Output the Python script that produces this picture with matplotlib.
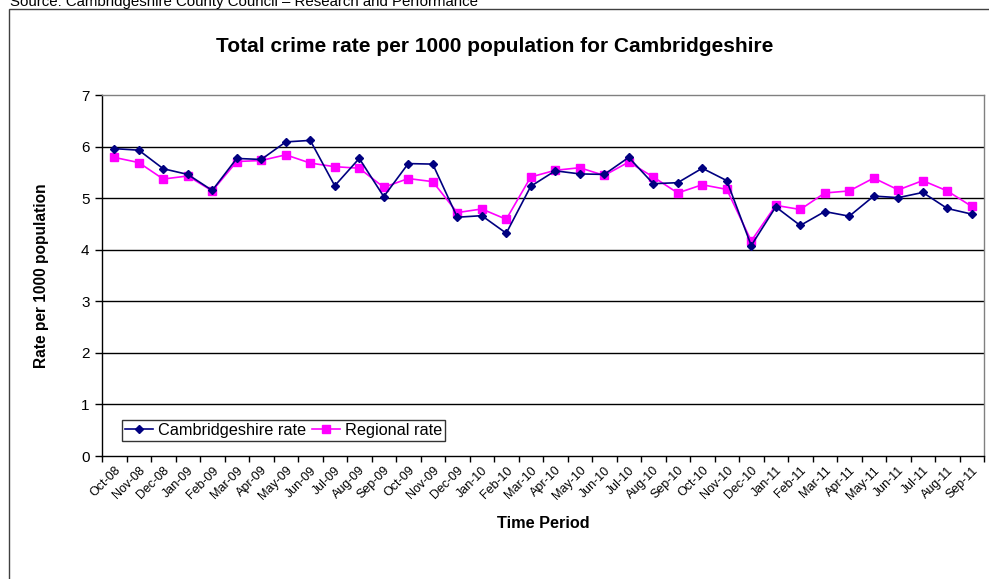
import matplotlib
matplotlib.use("Agg")
import matplotlib.pyplot as plt
from matplotlib.patches import Rectangle

plt.rcParams['font.family'] = ['Liberation Sans', 'DejaVu Sans']

months = ["Oct-08", "Nov-08", "Dec-08", "Jan-09", "Feb-09", "Mar-09", "Apr-09", "May-09",
          "Jun-09", "Jul-09", "Aug-09", "Sep-09", "Oct-09", "Nov-09", "Dec-09", "Jan-10",
          "Feb-10", "Mar-10", "Apr-10", "May-10", "Jun-10", "Jul-10", "Aug-10", "Sep-10",
          "Oct-10", "Nov-10", "Dec-10", "Jan-11", "Feb-11", "Mar-11", "Apr-11", "May-11",
          "Jun-11", "Jul-11", "Aug-11", "Sep-11"]

cambs_rate = [5.96, 5.93, 5.57, 5.46, 5.15, 5.77, 5.75, 6.09, 6.12, 5.24, 5.77, 5.03,
              5.67, 5.66, 4.63, 4.66, 4.32, 5.23, 5.53, 5.47, 5.46, 5.79, 5.28, 5.30,
              5.58, 5.34, 4.08, 4.83, 4.47, 4.74, 4.65, 5.04, 5.01, 5.11, 4.80, 4.69]

regional_rate = [5.79, 5.69, 5.37, 5.43, 5.14, 5.71, 5.73, 5.84, 5.68, 5.61, 5.58, 5.21,
                 5.38, 5.32, 4.72, 4.79, 4.59, 5.41, 5.54, 5.59, 5.44, 5.70, 5.41, 5.10,
                 5.26, 5.17, 4.17, 4.86, 4.78, 5.10, 5.14, 5.39, 5.16, 5.34, 5.14, 4.84]

y_ticks = [0, 1, 2, 3, 4, 5, 6, 7]

W, H = 989, 579
fig = plt.figure(figsize=(W / 100, H / 100), dpi=100)

# outer chart frame (runs off the right and bottom edges)
fig.patches.append(Rectangle((9 / W, -0.2), 1.2, 1 - 9 / H + 0.2, transform=fig.transFigure,
                             fill=False, edgecolor="#404040", linewidth=1.0))

fig.text(10 / W, 1 - 6 / H, "Source: Cambridgeshire County Council \u2013 Research and Performance",
         fontsize=10.8, ha="left", va="baseline", color="black")

fig.text(495 / W, 1 - 47 / H, "Total crime rate per 1000 population for Cambridgeshire",
         fontsize=15, fontweight="bold", ha="center", va="center")

ax = fig.add_axes([102 / W, (H - 456) / H, (984 - 102) / W, (456 - 95) / H])

x = list(range(len(months)))
ax.plot(x, cambs_rate, color="#000080", marker="D", markersize=4.5, linewidth=1.2,
        label="Cambridgeshire rate", zorder=4)
ax.plot(x, regional_rate, color="#FF00FF", marker="s", markersize=5.5, linewidth=1.2,
        label="Regional rate", zorder=3)

ax.set_xlim(-0.5, len(months) - 0.5)
ax.set_ylim(0, 7)
ax.set_yticks(y_ticks)
ax.set_yticklabels([str(v) for v in y_ticks], fontsize=11)

# category boundaries carry the tick marks, labels sit at the category centres
ax.set_xticks([i - 0.5 for i in range(len(months) + 1)])
ax.set_xticklabels([])
ax.set_xticks(x, minor=True)
ax.set_xticklabels(months, minor=True, rotation=45, ha="right", rotation_mode="anchor",
                   fontsize=9)
ax.tick_params(axis="x", which="major", length=4, width=1, direction="out", color="black")
ax.tick_params(axis="x", which="minor", length=0, pad=6)
ax.tick_params(axis="y", length=5, width=1, direction="out", color="black", pad=4)

for v in y_ticks[1:-1]:
    ax.axhline(v, color="black", linewidth=1.0, zorder=1)

ax.spines["left"].set_color("black")
ax.spines["bottom"].set_color("black")
ax.spines["top"].set_color("#808080")
ax.spines["right"].set_color("#808080")
for s in ax.spines.values():
    s.set_linewidth(1.0)

ax.set_ylabel("Rate per 1000 population", fontsize=11.2, fontweight="bold")
ax.set_xlabel("Time Period", fontsize=11.7, fontweight="bold")
ax.yaxis.set_label_coords(-(102 - 42) / (984 - 102), 0.5)
ax.xaxis.set_label_coords(0.5, -(523 - 456) / (456 - 95))
ax.xaxis.label.set_va("center")
ax.yaxis.label.set_va("center")

leg = ax.legend(loc="lower left", bbox_to_anchor=((122 - 102) / (984 - 102), (456 - 441) / (456 - 95)),
                ncol=2, fontsize=11.7, frameon=True, fancybox=False, edgecolor="black",
                handlelength=1.7, handletextpad=0.3, columnspacing=0.4, borderpad=0.2,
                borderaxespad=0)
leg.get_frame().set_linewidth(1.0)

fig.savefig("out.png", dpi=100)
